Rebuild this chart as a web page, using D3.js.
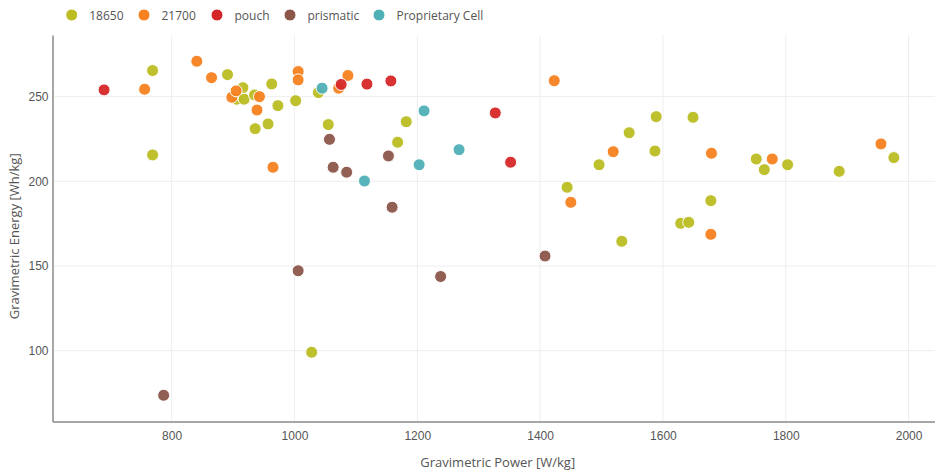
<!DOCTYPE html>
<html>
<head>
<meta charset="utf-8">
<script src="https://cdn.jsdelivr.net/npm/d3@7"></script>
<style>
  html, body { margin: 0; padding: 0; background: #fff; }
  svg { display: block; font-family: "Open Sans", "Noto Sans", sans-serif; }
</style>
</head>
<body>
<svg id="chart" width="935" height="474"></svg>
<script>
// ---- Data ----
const seriesNames = ["18650", "21700", "pouch", "prismatic", "Proprietary Cell"];
const seriesColors = ["#bcbd22", "#f58220", "#d62728", "#8c564b", "#4fb0b6"];

const power18650 = [769, 769, 891, 916, 906, 918, 935, 963, 973, 1002, 957, 936, 1039, 1055, 1182, 1168, 1028, 1444, 1496, 1533, 1545, 1589, 1587, 1649, 1629, 1642, 1678, 1752, 1765, 1803, 1887, 1976];
const energy18650 = [265.4, 215.6, 263, 255.3, 248.5, 248.5, 251, 257.5, 244.7, 247.6, 233.9, 231.1, 252.4, 233.5, 235.2, 223.1, 99.1, 196.5, 209.8, 164.6, 228.7, 238.2, 217.9, 237.8, 175.2, 175.8, 188.6, 213.2, 206.9, 209.8, 205.9, 214];

const power21700 = [756, 841, 865, 898, 905, 943, 939, 965, 1006, 1006, 1072, 1087, 1423, 1450, 1519, 1679, 1678, 1778, 1955];
const energy21700 = [254.4, 270.9, 261.2, 249.6, 253.4, 250, 242.1, 208.3, 264.8, 259.9, 255, 262.5, 259.4, 187.6, 217.5, 216.6, 168.7, 213.2, 222.1];

const powerPouch = [690, 1076, 1118, 1157, 1327, 1352];
const energyPouch = [254, 257.2, 257.4, 259.3, 240.4, 211.3];

const powerPrismatic = [787, 1006, 1057, 1063, 1085, 1153, 1159, 1238, 1408];
const energyPrismatic = [73.7, 147.2, 224.8, 208.3, 205.4, 215, 184.7, 143.8, 155.9];

const powerProprietary = [1045, 1114, 1203, 1211, 1268];
const energyProprietary = [255, 200.2, 209.8, 241.6, 218.7];

const xTicks = [800, 1000, 1200, 1400, 1600, 1800, 2000];
const yTicks = [100, 150, 200, 250];
const xTitle = "Gravimetric Power [W/kg]";
const yTitle = "Gravimetric Energy [Wh/kg]";

const seriesPower = [power18650, power21700, powerPouch, powerPrismatic, powerProprietary];
const seriesEnergy = [energy18650, energy21700, energyPouch, energyPrismatic, energyProprietary];

// ---- Layout ----
const W = 935, H = 474;
const plot = { left: 52.5, right: 935, top: 35, bottom: 421.5 };

const svg = d3.select("#chart");

const x = d3.scaleLinear().domain([606, 2043]).range([plot.left, plot.right]);
const y = d3.scaleLinear().domain([58.2, 286.4]).range([plot.bottom, plot.top]);

// Gridlines
const grid = svg.append("g");
grid.selectAll("line.vx").data(xTicks).join("line")
  .attr("x1", d => x(d)).attr("x2", d => x(d))
  .attr("y1", plot.top).attr("y2", plot.bottom)
  .attr("stroke", "#eeeeee").attr("stroke-width", 1);
grid.selectAll("line.hy").data(yTicks).join("line")
  .attr("x1", plot.left).attr("x2", plot.right)
  .attr("y1", d => y(d)).attr("y2", d => y(d))
  .attr("stroke", "#eeeeee").attr("stroke-width", 1);

// Axes
const xAxis = d3.axisBottom(x).tickValues(xTicks).tickSize(0).tickPadding(10).tickFormat(d3.format("d"));
const gx = svg.append("g").attr("transform", `translate(0,${plot.bottom})`).call(xAxis);
gx.select(".domain").attr("stroke", "#8a8a8a").attr("stroke-width", 1.5);
gx.selectAll("text").attr("fill", "#555").style("font-size", "12px");

const yAxis = d3.axisLeft(y).tickValues(yTicks).tickSize(0).tickPadding(4).tickFormat(d3.format("d"));
const gy = svg.append("g").attr("transform", `translate(${plot.left},0)`).call(yAxis);
gy.select(".domain").attr("stroke", "#8a8a8a").attr("stroke-width", 1.5);
gy.selectAll("text").attr("fill", "#555").style("font-size", "12px");

// Axis titles
svg.append("text")
  .attr("x", (plot.left + plot.right) / 2 + 4).attr("y", 467)
  .attr("text-anchor", "middle").attr("fill", "#555").style("font-size", "13px")
  .text(xTitle);
svg.append("text")
  .attr("transform", `translate(19,${(plot.top + plot.bottom) / 2 + 8}) rotate(-90)`)
  .attr("text-anchor", "middle").attr("fill", "#555").style("font-size", "13px")
  .text(yTitle);

// Points
const clip = svg.append("clipPath").attr("id", "plotclip").append("rect")
  .attr("x", plot.left).attr("y", plot.top)
  .attr("width", plot.right - plot.left).attr("height", plot.bottom - plot.top);

const marks = svg.append("g").attr("clip-path", "url(#plotclip)");
seriesNames.forEach((name, i) => {
  const pts = seriesPower[i].map((p, j) => ({ p, e: seriesEnergy[i][j] }));
  marks.append("g").selectAll("circle").data(pts).join("circle")
    .attr("cx", d => x(d.p)).attr("cy", d => y(d.e))
    .attr("r", 6)
    .attr("fill", seriesColors[i])
    .attr("fill-opacity", 0.95)
    .attr("stroke", "#fff").attr("stroke-width", 1);
});

// Legend
const legendX = [71.7, 144, 217, 290, 379];
const legend = svg.append("g");
seriesNames.forEach((name, i) => {
  legend.append("circle")
    .attr("cx", legendX[i]).attr("cy", 15).attr("r", 6)
    .attr("fill", seriesColors[i]).attr("stroke", "#fff").attr("stroke-width", 1);
  legend.append("text")
    .attr("x", legendX[i] + 17.5).attr("y", 19.5)
    .attr("fill", "#555").style("font-size", "12px")
    .text(name);
});
</script>
</body>
</html>
